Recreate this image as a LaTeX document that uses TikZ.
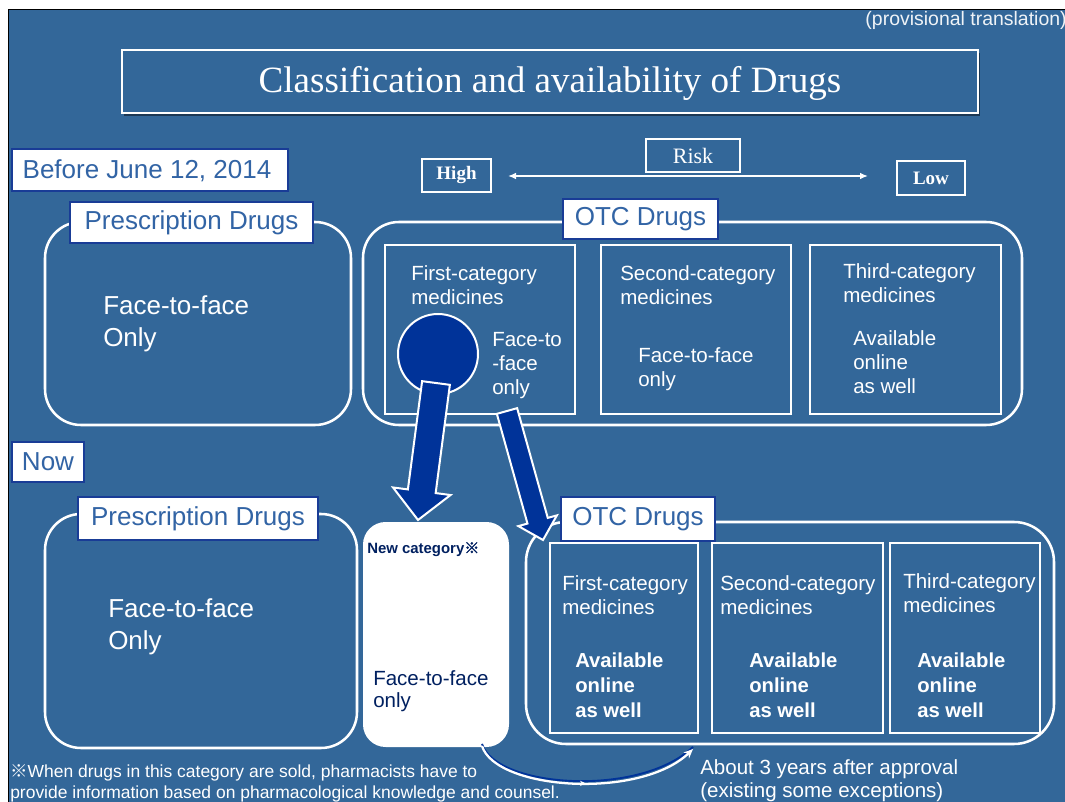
\documentclass[tikz,border=0pt]{standalone}
\usepackage{fontspec}
\setmainfont{Liberation Sans}
\newfontfamily\titlefont{Liberation Serif}
\newfontfamily\cjkfont[AutoFakeBold=2.5]{Noto Sans CJK JP}
\usetikzlibrary{fit,calc,shadows,arrows.meta,decorations.markings}

\definecolor{slate}{RGB}{51,103,153}
\definecolor{navyfill}{RGB}{0,51,153}
\definecolor{labelline}{RGB}{25,60,150}
\definecolor{labeltext}{RGB}{50,100,165}
\definecolor{inktext}{RGB}{0,32,96}

\newcommand{\fs}[2]{\fontsize{#1}{#2}\selectfont}
\newcommand{\refmark}{{\cjkfont ※}}

\tikzset{
  group/.style={draw=white, line width=1.9pt, rounded corners=27pt, inner sep=0pt},
  catbox/.style={draw=white, line width=2pt, inner sep=0pt},
  tag/.style={fill=white, draw=labelline, line width=1.5pt, inner sep=0pt},
  tagtext/.style={text=labeltext, font={\fs{19.5}{24}}, inner sep=0pt},
  riskbox/.style={draw=white, line width=1.2pt, inner sep=0pt},
  body/.style={text=white, align=left, inner sep=0pt, anchor=north west},
  bigtext/.style={body, font={\fs{19.5}{24}}},
  midtext/.style={body, font={\fs{15.4}{18}}},
  boldtext/.style={body, font={\bfseries\fs{15.2}{18.4}}},
  blockarrow/.style={fill=navyfill, draw=white, line width=1.5pt, line join=miter},
}

\begin{document}
\begin{tikzpicture}[x=0.75pt, y=-0.75pt]
\useasboundingbox (0,0) rectangle (1065,802);

% page frame and background
\fill[white] (0,0) rectangle (1065,802);
\fill[slate] (9,10) rectangle (1065,802);
\draw[black, line width=1.2pt] (8.5,802) -- (8.5,9.5) -- (1065,9.5);

\node[body, anchor=north east, font={\fs{14.6}{17}}, text=white!92!slate] (prov) at (1067,11) {(provisional translation)};

% title
\node[fit={(122,50)(978,113)}, fill=slate, draw=white, line width=1.5pt, inner sep=0pt,
      drop shadow={shadow xshift=1.5pt, shadow yshift=-2.5pt, fill=black, opacity=.45}] (titlebox) {};
\node[text=white, font={\titlefont\fs{27.8}{32}}] (title) at (550,83) {Classification and availability of Drugs};

% risk scale
\node[riskbox, fit={(646,139)(740,172)}] (riskbox) {};
\node[text=white, font={\titlefont\fs{16.5}{20}}] (risk) at (riskbox) {Risk};
\node[riskbox, fit={(422,159)(491,192)}] (highbox) {};
\node[text=white, font={\titlefont\bfseries\fs{14.25}{18}}] (high) at (highbox) {High};
\node[riskbox, fit={(897,161)(965,195)}] (lowbox) {};
\node[text=white, font={\titlefont\bfseries\fs{14.25}{18}}] (low) at (lowbox) {Low};
\coordinate (riskL) at (508,176);
\coordinate (riskR) at (868,176);
\draw[white, line width=1.1pt, {Latex[length=6pt,width=5pt]}-{Latex[length=6pt,width=5pt]}] (riskL) -- (riskR);

% ---------- before ----------
\node[tag, fit={(12,149)(288,191)}] (beforetag) {};
\node[tagtext] (before) at (147,171) {Before June 12, 2014};

\node[group, fit={(45,222)(351,425)}] (rxold) {};
\node[bigtext] (rxoldtxt) at (103,295) {Face-to-face\\Only};

\node[group, fit={(363,222)(1022,425)}] (otcold) {};
\node[catbox, fit={(385,245)(575,414)}] (c1old) {};
\node[catbox, fit={(601,245)(791,414)}] (c2old) {};
\node[catbox, fit={(810,245)(1001,414)}] (c3old) {};
\node[midtext] (c1oldname) at (411,265) {First-category\\medicines};
\node[midtext] (c1oldrule) at (492,332) {Face-to\\-face\\only};
\node[midtext] (c2oldname) at (620,265) {Second-category\\medicines};
\node[midtext] (c2oldrule) at (638,347) {Face-to-face\\only};
\node[midtext] (c3oldname) at (843,263) {Third-category\\medicines};
\node[midtext] (c3oldrule) at (853,330) {Available\\online\\as well};

\node[circle, fill=navyfill, draw=white, line width=1.5pt, minimum size=60pt, inner sep=0pt] (dot) at (438,354) {};

\node[tag, fit={(70,202)(313,243)}] (rxoldtag) {};
\node[tagtext] (rxoldlbl) at (rxoldtag) {Prescription Drugs};
\node[tag, fit={(563,199)(718,239)}] (otcoldtag) {};
\node[tagtext] (otcoldlbl) at (otcoldtag) {OTC Drugs};

% ---------- now ----------
\node[tag, fit={(12,442)(84,482)}] (nowtag) {};
\node[tagtext] (now) at (nowtag) {Now};

\node[group, fit={(45,514)(357,748)}] (rxnew) {};
\node[bigtext] (rxnewtxt) at (108,598) {Face-to-face\\Only};

\node[fill=white, rounded corners=17pt, inner sep=0pt, fit={(363,522)(509,747)}] (newcat) {};
\node[body, text=inktext, font={\bfseries\fs{11.2}{14}}] (newcatname) at (367,542) {New category\refmark};
\node[body, text=inktext, font={\fs{15.4}{16.9}}] (newcatrule) at (373,670) {Face-to-face\\only};

\node[group, rounded corners=30pt, fit={(526,522)(1054,744)}] (otcnew) {};
\node[catbox, fit={(550,543)(698,733)}] (c1new) {};
\node[catbox, fit={(712,543)(883,733)}] (c2new) {};
\node[catbox, fit={(890,543)(1040,733)}] (c3new) {};
\node[midtext] (c1newname) at (562,575) {First-category\\medicines};
\node[midtext] (c2newname) at (720,575) {Second-category\\medicines};
\node[midtext] (c3newname) at (903,573) {Third-category\\medicines};
\node[boldtext] (c1newrule) at (575,653) {Available\\online\\as well};
\node[boldtext] (c2newrule) at (749,653) {Available\\online\\as well};
\node[boldtext] (c3newrule) at (917,653) {Available\\online\\as well};

\node[tag, fit={(78,497)(318,540)}] (rxnewtag) {};
\node[tagtext] (rxnewlbl) at (rxnewtag) {Prescription Drugs};
\node[tag, fit={(561,497)(715,541)}] (otcnewtag) {};
\node[tagtext] (otcnewlbl) at (otcnewtag) {OTC Drugs};

% ---------- block arrows from the first category ----------
\coordinate (a1s) at (436,383);
\coordinate (a1t) at (418,520);
\coordinate (a1b) at ($(a1t)!21.75pt!(a1s)$);
\draw[blockarrow] ($(a1s)!10.5pt!90:(a1t)$) -- ($(a1b)!10.5pt!90:(a1t)$) -- ($(a1b)!21.75pt!90:(a1t)$)
  -- (a1t) -- ($(a1b)!21.75pt!-90:(a1t)$) -- ($(a1b)!10.5pt!-90:(a1t)$) -- ($(a1s)!10.5pt!-90:(a1t)$) -- cycle;

\coordinate (a2s) at (507,411);
\coordinate (a2t) at (543,540);
\coordinate (a2b) at ($(a2t)!15pt!(a2s)$);
\draw[blockarrow] ($(a2s)!7.9pt!90:(a2t)$) -- ($(a2b)!7.9pt!90:(a2t)$) -- ($(a2b)!15pt!90:(a2t)$)
  -- (a2t) -- ($(a2b)!15pt!-90:(a2t)$) -- ($(a2b)!7.9pt!-90:(a2t)$) -- ($(a2s)!7.9pt!-90:(a2t)$) -- cycle;

% ---------- curved arrow: new category to OTC ----------
\coordinate (cs) at (482,746);
\coordinate (ce) at (693,749);
\draw[navyfill, line width=1.4pt, transform canvas={yshift=1.6pt}] (cs) .. controls (496,790) and (640,800) .. (ce);
\draw[white, line width=1.7pt, -{Stealth[length=7pt,width=6pt]}, postaction=decorate,
      decoration={markings, mark=at position 0.5 with {\arrow{Stealth[length=4pt,width=4pt]}}}]
  (cs) .. controls (496,790) and (640,800) .. (ce);

\node[body, font={\fs{15.4}{17.5}}] (delay) at (700,759) {About 3 years after approval\\(existing some exceptions)};
\node[body, font={\fs{13.1}{16}}] (footnote) at (10,764) {\refmark When drugs in this category are sold, pharmacists have to\\provide information based on pharmacological knowledge and counsel.};
\end{tikzpicture}
\end{document}
